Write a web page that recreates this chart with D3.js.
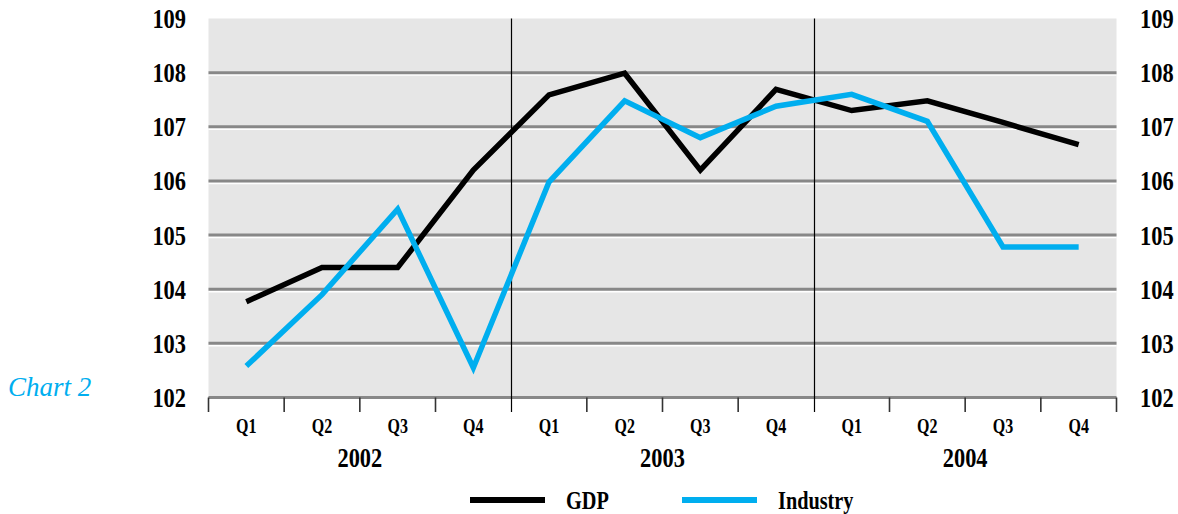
<!DOCTYPE html>
<html>
<head>
<meta charset="utf-8">
<script src="https://cdn.jsdelivr.net/npm/d3@7"></script>
<style>
  html, body { margin: 0; padding: 0; background: #fff; }
  svg { display: block; }
  text { font-family: "Liberation Serif", "DejaVu Serif", serif; font-weight: bold; fill: #000; }
</style>
</head>
<body>
<svg id="chart" width="1178" height="514"></svg>
<script>
const years = ["2002", "2003", "2004"];
const quarters = ["Q1", "Q2", "Q3", "Q4"];
const categories = years.flatMap(y => quarters.map(q => y + " " + q));
const gdp = [103.77, 104.4, 104.4, 106.2, 107.59, 107.99, 106.2, 107.69, 107.3, 107.48, 107.08, 106.67];
const industry = [102.58, 103.9, 105.48, 102.55, 105.98, 107.48, 106.8, 107.38, 107.6, 107.1, 104.78, 104.78];
const yTicks = [102, 103, 104, 105, 106, 107, 108, 109];
const seriesNames = ["GDP", "Industry"];
const seriesColors = ["#000000", "#00aeef"];

const svg = d3.select("#chart");
const L = 208.5, R = 1116.5, T = 18.5, B = 397.5;

const x = d3.scaleBand().domain(categories).range([L, R]).paddingInner(0).paddingOuter(0);
const y = d3.scaleLinear().domain([102, 109]).range([B, T]);

// background
svg.append("rect").attr("x", L).attr("y", T).attr("width", R - L).attr("height", B - T).attr("fill", "#e6e6e6");

// gridlines
const grid = svg.append("g");
yTicks.filter(v => v < 109).forEach(v => {
  grid.append("line").attr("x1", L).attr("x2", R).attr("y1", y(v) + 2.2).attr("y2", y(v) + 2.2)
    .attr("stroke", "#ffffff").attr("stroke-width", 2);
  grid.append("line").attr("x1", L).attr("x2", R).attr("y1", y(v)).attr("y2", y(v))
    .attr("stroke", "#888888").attr("stroke-width", 3);
});

// condensed text helper
function ctext(g, txt, px, py, size, anchor, sx, fill) {
  const t = g.append("text")
    .attr("transform", `translate(${px},${py}) scale(${sx},1)`)
    .attr("text-anchor", anchor)
    .attr("font-size", size)
    .text(txt);
  if (fill) t.style("fill", fill);
  return t;
}

// y axis labels (left & right)
const yl = svg.append("g");
yTicks.forEach(v => {
  ctext(yl, String(v), 186, y(v) + 9.5, 28, "end", 0.8);
  ctext(yl, String(v), 1140, y(v) + 9.5, 28, "start", 0.8);
});

// x ticks at band edges
const xt = svg.append("g");
const edges = categories.map(c => x(c)).concat([R]);
edges.forEach((e, i) => {
  if (i % 4 === 0 && i !== 0 && i !== 12) return;
  xt.append("line").attr("x1", e).attr("x2", e).attr("y1", B).attr("y2", 412)
    .attr("stroke", "#333").attr("stroke-width", 1.6);
});
// year separators
[4, 8].forEach(i => {
  xt.append("line").attr("x1", Math.round(edges[i]) + 0.5).attr("x2", Math.round(edges[i]) + 0.5)
    .attr("y1", T).attr("y2", 412).attr("stroke", "#000").attr("stroke-width", 1.2);
});

// quarter labels
categories.forEach((c, i) => {
  ctext(xt, quarters[i % 4], x(c) + x.bandwidth() / 2, 433, 20, "middle", 0.8);
});
// year labels
years.forEach((yr, i) => {
  const cx = (edges[i * 4] + edges[i * 4 + 4]) / 2;
  ctext(xt, yr, cx, 467, 28, "middle", 0.8);
});

// lines
const line = d3.line().x((d, i) => x(categories[i]) + x.bandwidth() / 2).y(d => y(d));
[gdp, industry].forEach((s, k) => {
  svg.append("path").datum(s).attr("d", line).attr("fill", "none")
    .attr("stroke", seriesColors[k]).attr("stroke-width", 5.5)
    .attr("stroke-linejoin", "miter").attr("stroke-linecap", "butt");
});

// legend
const lg = svg.append("g");
const legendX = [470, 682];
seriesNames.forEach((n, k) => {
  lg.append("line").attr("x1", legendX[k]).attr("x2", legendX[k] + 75).attr("y1", 500).attr("y2", 500)
    .attr("stroke", seriesColors[k]).attr("stroke-width", 6);
  ctext(lg, n, legendX[k] + 96, 509, 26, "start", 0.78);
});

// chart label
svg.append("text").attr("x", 8).attr("y", 396).attr("font-size", 27)
  .style("font-style", "italic").style("font-weight", "normal").style("fill", "#00aeef")
  .text("Chart 2");
</script>
</body>
</html>
